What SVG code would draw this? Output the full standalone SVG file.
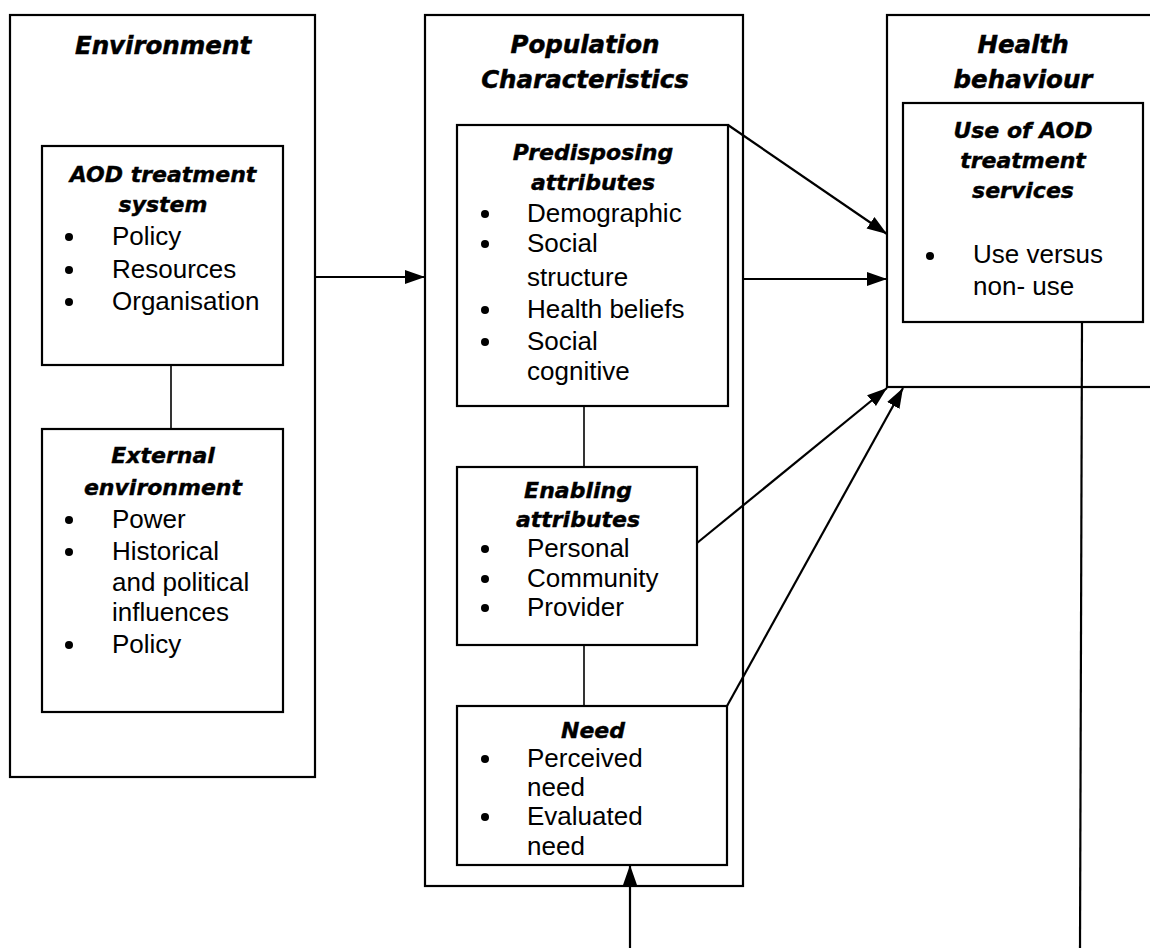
<svg xmlns="http://www.w3.org/2000/svg" width="1150" height="948" viewBox="0 0 1150 948">
<style>
.box{fill:#fff;stroke:#000;stroke-width:2.2}
.h1{font-family:"DejaVu Sans",sans-serif;font-weight:bold;font-style:italic;font-size:24.5px;text-anchor:middle;fill:#000;stroke:#000;stroke-width:0.5}
.h2{font-family:"DejaVu Sans",sans-serif;font-weight:bold;font-style:italic;font-size:22px;text-anchor:middle;fill:#000;stroke:#000;stroke-width:0.4}
.t{font-family:"Liberation Sans",Arial,sans-serif;font-size:26px;fill:#000}
.d{fill:#000}
.ln{stroke:#000;stroke-width:1.6;fill:none}
.ar{stroke:#000;stroke-width:2.2;fill:none;marker-end:url(#ah)}
</style>
<defs>
<marker id="ah" markerUnits="userSpaceOnUse" markerWidth="22" markerHeight="16" refX="20" refY="8" orient="auto">
<path d="M0,1 L20,8 L0,15 Z" fill="#000"/>
</marker>
</defs>
<rect width="1150" height="948" fill="#fff"/>

<g id="environment">
<rect class="box" x="10" y="15" width="305" height="762"/>
<text class="h1" x="163" y="54">Environment</text>
</g>
<g id="aod-system">
<rect class="box" x="42" y="146" width="241" height="219"/>
<text class="h2" x="163" y="182">AOD treatment</text>
<text class="h2" x="163" y="212">system</text>
<circle class="d" cx="69" cy="237" r="4"/><text class="t" x="112" y="245">Policy</text>
<circle class="d" cx="69" cy="270" r="4"/><text class="t" x="112" y="278">Resources</text>
<circle class="d" cx="69" cy="302" r="4"/><text class="t" x="112" y="310">Organisation</text>
</g>
<g id="external-environment">
<rect class="box" x="42" y="429" width="241" height="283"/>
<text class="h2" x="163" y="463">External</text>
<text class="h2" x="163" y="495">environment</text>
<circle class="d" cx="69" cy="520" r="4"/><text class="t" x="112" y="528">Power</text>
<circle class="d" cx="69" cy="552" r="4"/><text class="t" x="112" y="560">Historical</text>
<text class="t" x="112" y="591">and political</text>
<text class="t" x="112" y="621">influences</text>
<circle class="d" cx="69" cy="645" r="4"/><text class="t" x="112" y="653">Policy</text>
</g>

<g id="population">
<rect class="box" x="425" y="15" width="318" height="871"/>
<text class="h1" x="585" y="53">Population</text>
<text class="h1" x="585" y="88">Characteristics</text>
</g>
<g id="predisposing">
<rect class="box" x="457" y="125" width="271" height="281"/>
<text class="h2" x="593" y="160">Predisposing</text>
<text class="h2" x="593" y="190">attributes</text>
<circle class="d" cx="485" cy="214" r="4"/><text class="t" x="527" y="222">Demographic</text>
<circle class="d" cx="485" cy="244" r="4"/><text class="t" x="527" y="252">Social</text>
<text class="t" x="527" y="286">structure</text>
<circle class="d" cx="485" cy="310" r="4"/><text class="t" x="527" y="318">Health beliefs</text>
<circle class="d" cx="485" cy="342" r="4"/><text class="t" x="527" y="350">Social</text>
<text class="t" x="527" y="380">cognitive</text>
</g>
<g id="enabling">
<rect class="box" x="457" y="467" width="240" height="178"/>
<text class="h2" x="578" y="498">Enabling</text>
<text class="h2" x="578" y="527">attributes</text>
<circle class="d" cx="485" cy="549" r="4"/><text class="t" x="527" y="557">Personal</text>
<circle class="d" cx="485" cy="579" r="4"/><text class="t" x="527" y="587">Community</text>
<circle class="d" cx="485" cy="608" r="4"/><text class="t" x="527" y="616">Provider</text>
</g>
<g id="need">
<rect class="box" x="457" y="706" width="270" height="159"/>
<text class="h2" x="593" y="738">Need</text>
<circle class="d" cx="485" cy="759" r="4"/><text class="t" x="527" y="767">Perceived</text>
<text class="t" x="527" y="796">need</text>
<circle class="d" cx="485" cy="817" r="4"/><text class="t" x="527" y="825">Evaluated</text>
<text class="t" x="527" y="855">need</text>
</g>

<g id="health-behaviour">
<rect class="box" x="887" y="15" width="280" height="372"/>
<text class="h1" x="1023" y="53">Health</text>
<text class="h1" x="1023" y="88">behaviour</text>
</g>
<g id="use-of-aod">
<rect class="box" x="903" y="103" width="240" height="219"/>
<text class="h2" x="1023" y="138">Use of AOD</text>
<text class="h2" x="1023" y="168">treatment</text>
<text class="h2" x="1023" y="198">services</text>
<circle class="d" cx="930" cy="256" r="4"/><text class="t" x="973" y="263">Use versus</text>
<text class="t" x="973" y="295">non- use</text>
</g>

<g id="connectors">
<line class="ln" x1="171" y1="365" x2="171" y2="429"/>
<line class="ln" x1="584" y1="406" x2="584" y2="467"/>
<line class="ln" x1="584" y1="645" x2="584" y2="706"/>
<line class="ar" x1="315" y1="277" x2="425" y2="277"/>
<line class="ar" x1="743" y1="279" x2="887" y2="279"/>
<line class="ar" x1="728" y1="125" x2="887" y2="234"/>
<line class="ar" x1="697" y1="543" x2="887" y2="388"/>
<line class="ar" x1="727" y1="706" x2="903" y2="388"/>
<line class="ar" x1="630" y1="948" x2="630" y2="865"/>
<line class="ln" x1="1082" y1="322" x2="1080" y2="948" style="stroke-width:2.2"/>
</g>
</svg>
